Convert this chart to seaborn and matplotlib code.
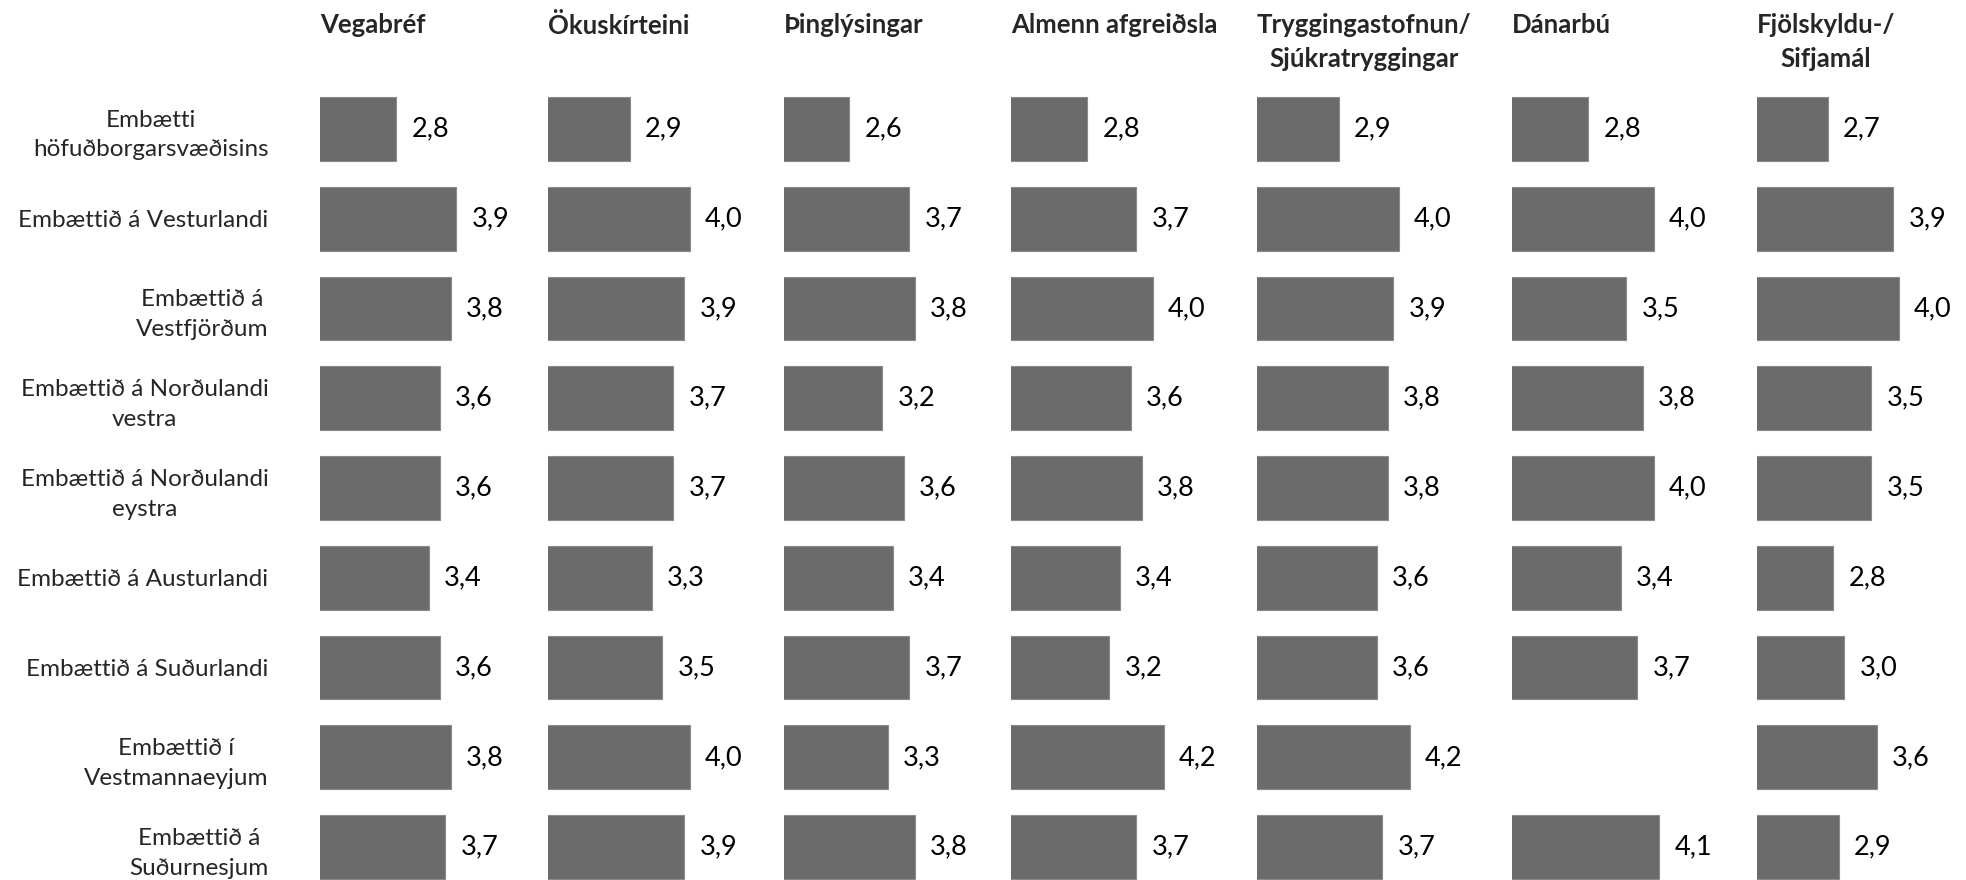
import numpy as np
import pandas as pd
import matplotlib
matplotlib.use("Agg")
import matplotlib.pyplot as plt
import seaborn as sns

# === Data ===
offices = [
    "Embætti\nhöfuðborgarsvæðisins",
    "Embættið á Vesturlandi",
    "Embættið á\nVestfjörðum",
    "Embættið á Norðulandi\nvestra",
    "Embættið á Norðulandi\neystra",
    "Embættið á Austurlandi",
    "Embættið á Suðurlandi",
    "Embættið í\nVestmannaeyjum",
    "Embættið á\nSuðurnesjum",
]
services = [
    "Vegabréf",
    "Ökuskírteini",
    "Þinglýsingar",
    "Almenn afgreiðsla",
    "Tryggingastofnun/\nSjúkratryggingar",
    "Dánarbú",
    "Fjölskyldu-/\nSifjamál",
]
vegabref = [2.8, 3.9, 3.8, 3.6, 3.6, 3.4, 3.6, 3.8, 3.7]
okuskirteini = [2.9, 4.0, 3.9, 3.7, 3.7, 3.3, 3.5, 4.0, 3.9]
thinglysingar = [2.6, 3.7, 3.8, 3.2, 3.6, 3.4, 3.7, 3.3, 3.8]
almenn = [2.8, 3.7, 4.0, 3.6, 3.8, 3.4, 3.2, 4.2, 3.7]
tryggingar = [2.9, 4.0, 3.9, 3.8, 3.8, 3.6, 3.6, 4.2, 3.7]
danarbu = [2.8, 4.0, 3.5, 3.8, 4.0, 3.4, 3.7, np.nan, 4.1]
fjolskyldu = [2.7, 3.9, 4.0, 3.5, 3.5, 2.8, 3.0, 3.6, 2.9]

series = [vegabref, okuskirteini, thinglysingar, almenn, tryggingar, danarbu, fjolskyldu]

# === Long table ===
rows = []
for svc, vals in zip(services, series):
    for off, v in zip(offices, vals):
        rows.append({"service": svc, "office": off, "value": v})
df = pd.DataFrame(rows)

# === Style ===
sns.set_style("white")
plt.rcParams["font.family"] = ["Lato", "DejaVu Sans"]

W, H = 1966, 880
fig = plt.figure(figsize=(W / 100, H / 100), dpi=100)

# layout (pixels): panel left edges, plot area top/bottom
panel_left = [320, 548, 784, 1011, 1257, 1512, 1757]
x_min, x_max = 1.4, 5.0
px_per_unit = 54.5
panel_w = (x_max - x_min) * px_per_unit
top_px, bottom_px = 84, 892
bar_color = "#6b6b6b"

for i, svc in enumerate(services):
    ax = fig.add_axes([panel_left[i] / W, 1 - bottom_px / H,
                       panel_w / W, (bottom_px - top_px) / H])
    sub = df[df["service"] == svc]
    sns.barplot(data=sub, x="value", y="office", order=offices, orient="h",
                color=bar_color, saturation=1, width=0.71, errorbar=None,
                edgecolor="#8a8a8a", linewidth=0.8, ax=ax)
    ax.set_xlim(x_min, x_max)
    ax.set_ylim(len(offices) - 0.5, -0.5)
    ax.set_xlabel("")
    ax.set_ylabel("")
    ax.set_xticks([])
    sns.despine(ax=ax, left=True, bottom=True)

    labels = []
    for bar in ax.containers[0]:
        w = bar.get_width()
        labels.append("" if np.isnan(w) else f"{w:.1f}".replace(".", ","))
    ax.bar_label(ax.containers[0], labels=labels, padding=11, fontsize=19.5,
                 color="black")

    if i == 0:
        ax.tick_params(axis="y", length=0, pad=37, labelsize=17.5)
        for t in ax.get_yticklabels():
            t.set_multialignment("center")
            t.set_linespacing(1.5)
    else:
        ax.set_yticks([])

    fig.text(panel_left[i] / W, 1 - 13 / H, svc, ha="left", va="top",
             multialignment="center", fontsize=18.5, fontweight="bold",
             linespacing=1.5)

fig.savefig("out.png", dpi=100)
